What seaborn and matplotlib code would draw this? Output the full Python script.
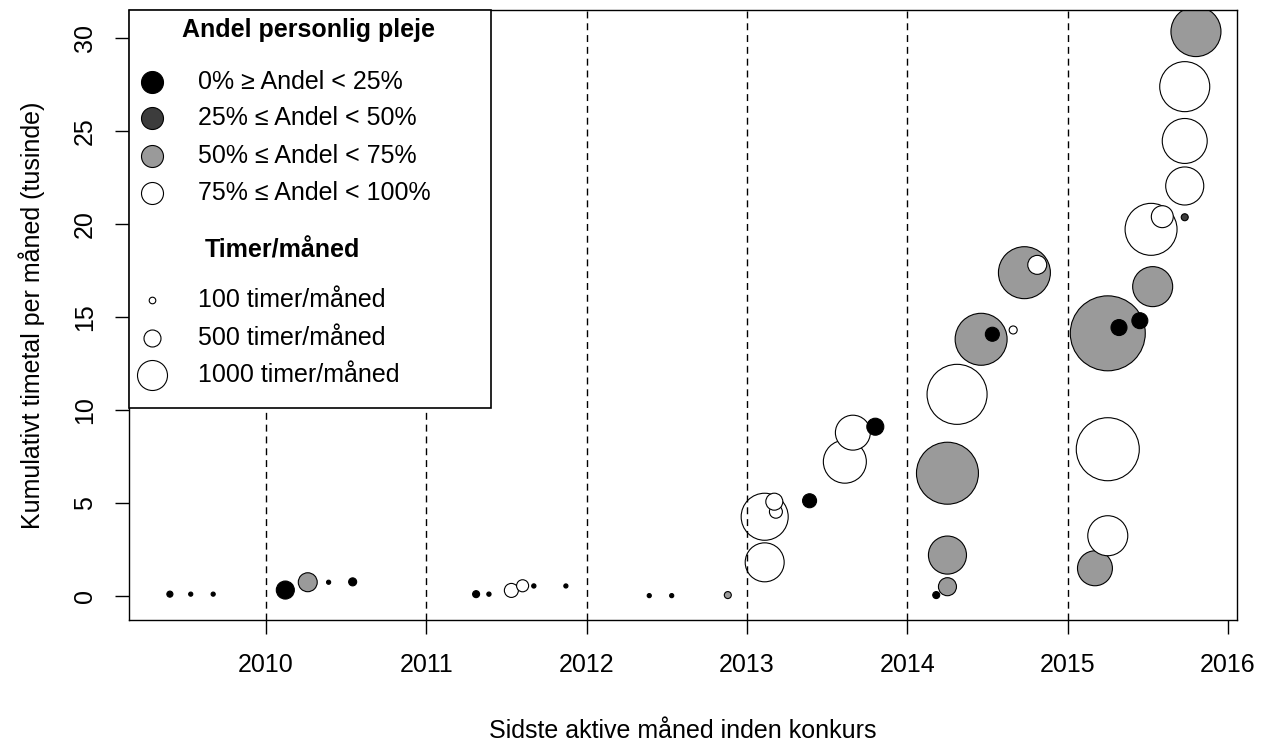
import numpy as np
import pandas as pd
import matplotlib
matplotlib.use('Agg')
import matplotlib.pyplot as plt
import seaborn as sns
from matplotlib.patches import Rectangle

# last active month (decimal year), cumulative hours (thousands), hours/month, share group
month = [2009.40, 2009.53, 2009.67,
         2010.12, 2010.26, 2010.39, 2010.54,
         2011.31, 2011.39, 2011.53, 2011.60, 2011.67, 2011.87,
         2012.39, 2012.53, 2012.88,
         2013.11, 2013.11, 2013.18, 2013.17, 2013.39, 2013.61, 2013.66, 2013.80,
         2014.18, 2014.25, 2014.25, 2014.25, 2014.31, 2014.46, 2014.53, 2014.66, 2014.73, 2014.81,
         2015.17, 2015.25, 2015.25, 2015.25, 2015.32, 2015.45, 2015.53, 2015.52, 2015.59, 2015.73,
         2015.73, 2015.73, 2015.73, 2015.80]
cum_hours = [0.10, 0.10, 0.10,
             0.32, 0.74, 0.74, 0.76,
             0.10, 0.10, 0.30, 0.55, 0.54, 0.54,
             0.02, 0.02, 0.05,
             1.81, 4.26, 4.53, 5.07, 5.12, 7.22, 8.78, 9.10,
             0.05, 0.50, 2.20, 6.60, 10.84, 13.80, 14.07, 14.30, 17.38, 17.80,
             1.49, 3.24, 7.89, 14.12, 14.43, 14.80, 16.63, 19.71, 20.39, 20.36,
             22.04, 24.46, 27.38, 30.34]
hours = [80, 5, 5,
         540, 575, 5, 155,
         115, 10, 385, 310, 10, 5,
         5, 5, 115,
         1345, 1655, 345, 500, 385, 1500, 1190, 500,
         115, 540, 1310, 2230, 2155, 1845, 385, 155, 1845, 575,
         1190, 1385, 2270, 2730, 460, 460, 1385, 1845, 690, 115,
         1310, 1575, 1770, 1770]
group = ['a', 'a', 'a',
         'a', 'c', 'a', 'a',
         'a', 'a', 'd', 'd', 'a', 'a',
         'a', 'a', 'c',
         'd', 'd', 'd', 'd', 'a', 'd', 'd', 'a',
         'a', 'c', 'c', 'c', 'd', 'c', 'a', 'd', 'c', 'd',
         'c', 'd', 'd', 'c', 'a', 'a', 'c', 'd', 'd', 'b',
         'd', 'd', 'd', 'c']

group_labels = ['0% \u2265 Andel < 25%', '25% \u2264 Andel < 50%',
                '50% \u2264 Andel < 75%', '75% \u2264 Andel < 100%']
group_colors = {'a': '#000000', 'b': '#3c3c3c', 'c': '#9a9a9a', 'd': '#ffffff'}
legend_hours = [100, 500, 1000]
year_lines = [2010, 2011, 2012, 2013, 2014, 2015]

df = pd.DataFrame({'month': month, 'cum': cum_hours, 'hours': hours, 'group': group})


def marker_area(h):
    # diameter grows linearly with hours/month (px), converted to pt^2
    d_px = 4 + 0.026 * np.asarray(h, dtype=float)
    return (d_px * 0.72) ** 2


sns.set_style('white')
plt.rcParams['font.family'] = ['Liberation Sans', 'DejaVu Sans']
plt.rcParams['font.size'] = 18
plt.rcParams['text.color'] = 'black'
plt.rcParams['axes.labelcolor'] = 'black'
plt.rcParams['xtick.color'] = 'black'
plt.rcParams['ytick.color'] = 'black'

fig = plt.figure(figsize=(12.64, 7.44), dpi=100)
ax = fig.add_axes([129 / 1264, 1 - 620 / 744, 1108 / 1264, 610 / 744])

for yr in year_lines:
    ax.axvline(yr, color='black', lw=1, ls=(0, (5, 3.5)), zorder=3)

sns.scatterplot(data=df, x='month', y='cum', hue='group', palette=group_colors,
                s=marker_area(df['hours']), edgecolor='black', linewidth=0.8,
                legend=False, ax=ax, zorder=2)

ax.set_xlim(2009.145, 2016.056)
ax.set_ylim(-1.29, 31.5)
ax.set_xticks(range(2010, 2017))
ax.set_yticks(range(0, 31, 5))
ax.set_xlabel('Sidste aktive måned inden konkurs', fontsize=18, labelpad=30)
ax.set_ylabel('Kumulativt timetal per måned (tusinde)', fontsize=18, labelpad=20)
ax.tick_params(axis='both', direction='out', length=10, width=1, color='black',
               labelcolor='black', labelsize=18, bottom=True, left=True)
ax.tick_params(axis='x', pad=14)
ax.tick_params(axis='y', pad=13, labelrotation=90)
for lab in ax.get_yticklabels():
    lab.set_va('center')
for sp in ax.spines.values():
    sp.set_visible(True)
    sp.set_color('black')
    sp.set_linewidth(1)


# legend box, drawn in axes fraction coordinates
def fx(px):
    return (px - 129) / 1108


def fy(py):
    return (620 - py) / 610


ax.add_patch(Rectangle((0, fy(408)), fx(491), 1 - fy(408), transform=ax.transAxes,
                       facecolor='white', edgecolor='black', lw=1.2, zorder=5, clip_on=False))
ax.text(fx(309), fy(30), 'Andel personlig pleje', transform=ax.transAxes,
        ha='center', va='center', fontweight='bold', fontsize=18, zorder=6)
for lab, key, py in zip(group_labels, ['a', 'b', 'c', 'd'], [82, 118, 156, 193]):
    ax.scatter([fx(152)], [fy(py)], s=(22 * 0.72) ** 2, c=group_colors[key],
               edgecolors='black', linewidths=0.8, transform=ax.transAxes, zorder=6, clip_on=False)
    ax.text(fx(198), fy(py), lab, transform=ax.transAxes, ha='left', va='center',
            fontsize=18, zorder=6)
ax.text(fx(205), fy(250), 'Timer/måned', transform=ax.transAxes,
        ha='left', va='center', fontweight='bold', fontsize=18, zorder=6)
for h, py in zip(legend_hours, [300, 338, 375]):
    ax.scatter([fx(152)], [fy(py)], s=marker_area(h), c='white', edgecolors='black',
               linewidths=0.8, transform=ax.transAxes, zorder=6, clip_on=False)
    ax.text(fx(198), fy(py), f'{h} timer/måned', transform=ax.transAxes, ha='left',
            va='center', fontsize=18, zorder=6)

fig.savefig('out.png', dpi=100)
